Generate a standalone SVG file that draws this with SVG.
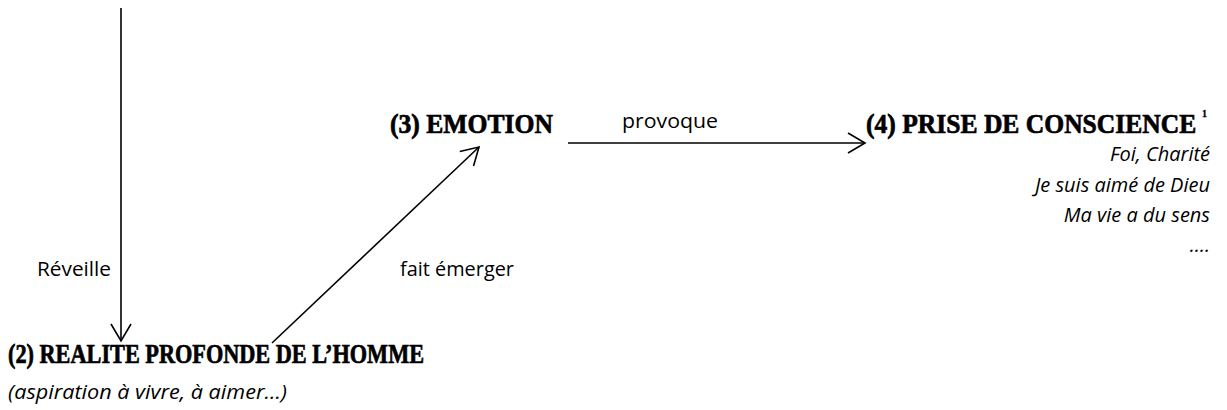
<svg xmlns="http://www.w3.org/2000/svg" width="1227" height="410" viewBox="0 0 1227 410">
  <style>
    .title { font-family: "Liberation Serif", "DejaVu Serif", serif; font-weight: bold; font-size: 27.5px; fill: #000; stroke: #000; stroke-width: 0.7; }
    .sup { font-family: "Liberation Serif", "DejaVu Serif", serif; font-weight: bold; font-size: 10px; fill: #000; stroke: #000; stroke-width: 0.3; }
    .label { font-family: "Open Sans", "Liberation Sans", sans-serif; font-size: 19.5px; fill: #000; }
    .note { font-family: "Open Sans", "Liberation Sans", sans-serif; font-style: italic; font-size: 20px; fill: #000; }
    .edge { stroke: #000; stroke-width: 1.6; fill: none; }
  </style>
  <defs>
    <marker id="arrow" markerUnits="userSpaceOnUse" markerWidth="24" markerHeight="24" viewBox="-20 -12 22 24" refX="0" refY="0" orient="auto" overflow="visible">
      <path d="M-17,-10 L0,0 L-17,10" fill="none" stroke="#000" stroke-width="1.6"/>
    </marker>
  </defs>

  <rect width="1227" height="410" fill="#fff"/>

  <!-- connectors -->
  <g id="connectors">
    <line class="edge" x1="121" y1="8" x2="121" y2="341" marker-end="url(#arrow)"/>
    <line class="edge" x1="272" y1="343" x2="479" y2="147" marker-end="url(#arrow)"/>
    <line class="edge" x1="568" y1="143" x2="865" y2="143" marker-end="url(#arrow)"/>
    <text class="label" x="37" y="276" textLength="74" lengthAdjust="spacingAndGlyphs">Réveille</text>
    <text class="label" x="400" y="276" textLength="114" lengthAdjust="spacingAndGlyphs">fait émerger</text>
    <text class="label" x="622" y="128" textLength="96" lengthAdjust="spacingAndGlyphs">provoque</text>
  </g>

  <!-- (2) deep reality of man -->
  <g id="node-realite">
    <text class="title" x="8" y="363" textLength="416" lengthAdjust="spacingAndGlyphs">(2) REALITE PROFONDE DE L’HOMME</text>
    <text class="note" x="8" y="399" textLength="279" lengthAdjust="spacingAndGlyphs">(aspiration à vivre, à aimer…)</text>
  </g>

  <!-- (3) emotion -->
  <g id="node-emotion">
    <text class="title" x="390" y="133" textLength="163" lengthAdjust="spacingAndGlyphs">(3) EMOTION</text>
  </g>

  <!-- (4) awareness, with footnote mark; title narrowed by a horizontal scale -->
  <g id="node-conscience">
    <text class="title" x="0" y="0" transform="translate(866 133) scale(0.93 1)">(4) PRISE DE CONSCIENCE</text>
    <text class="sup" x="1202" y="117">1</text>
    <g text-anchor="end">
      <text class="note" x="1210" y="161">Foi, Charité</text>
      <text class="note" x="1210" y="192">Je suis aimé de Dieu</text>
      <text class="note" x="1210" y="222">Ma vie a du sens</text>
      <text class="note" x="1210" y="252">….</text>
    </g>
  </g>
</svg>
